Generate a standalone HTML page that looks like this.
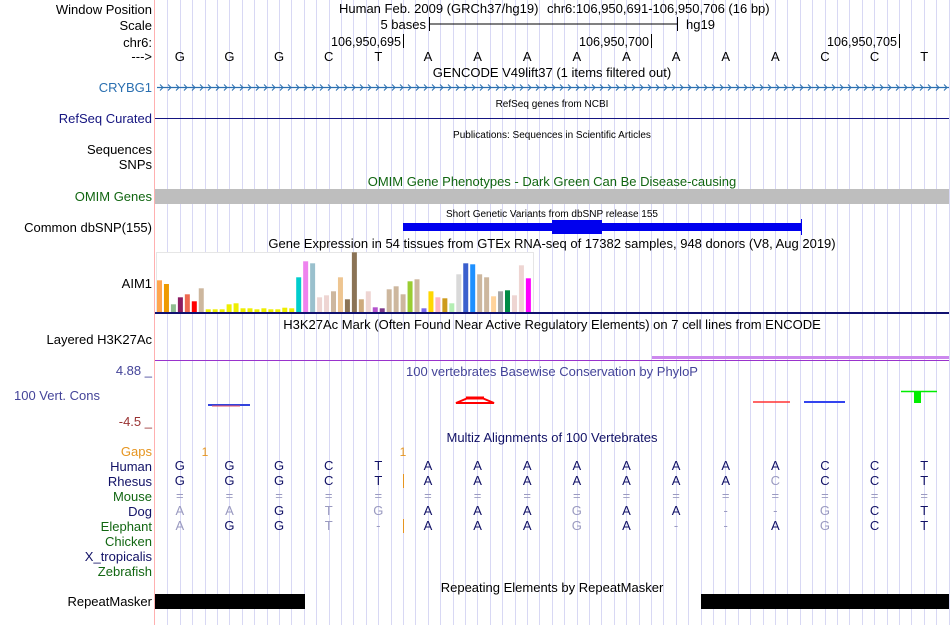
<!DOCTYPE html>
<html><head><meta charset="utf-8"><style>
html,body{margin:0;padding:0;background:#fff;}
svg{display:block;font-family:"Liberation Sans",sans-serif;}
</style></head><body>
<svg id="main" width="950" height="625" viewBox="0 0 950 625" xmlns="http://www.w3.org/2000/svg">
<g id="guides"></g>
<line x1="154.5" y1="0" x2="154.5" y2="625" stroke="#ffb0b0" stroke-width="1"/>
<g font-size="13" text-anchor="end">
<text x="152" y="14" fill="#000">Window Position</text>
<text x="152" y="30" fill="#000">Scale</text>
<text x="152" y="47" fill="#000">chr6:</text>
<text x="152" y="61" fill="#000">---&gt;</text>
<text x="152" y="92" fill="#2a6fb0">CRYBG1</text>
<text x="152" y="123" fill="#151580">RefSeq Curated</text>
<text x="152" y="154" fill="#000">Sequences</text>
<text x="152" y="169" fill="#000">SNPs</text>
<text x="152" y="201" fill="#116611">OMIM Genes</text>
<text x="152" y="232" fill="#000">Common dbSNP(155)</text>
<text x="152" y="288" fill="#000">AIM1</text>
<text x="152" y="344" fill="#000">Layered H3K27Ac</text>
<text x="152" y="375" fill="#444499">4.88 _</text>
<text x="100" y="400" fill="#444499">100 Vert. Cons</text>
<text x="152" y="426" fill="#993333">-4.5 _</text>
<text x="152" y="456" fill="#e69520">Gaps</text>
<text x="152" y="471" fill="#111166">Human</text>
<text x="152" y="486" fill="#111166">Rhesus</text>
<text x="152" y="501" fill="#116611">Mouse</text>
<text x="152" y="516" fill="#111166">Dog</text>
<text x="152" y="531" fill="#116611">Elephant</text>
<text x="152" y="546" fill="#116611">Chicken</text>
<text x="152" y="561" fill="#111166">X_tropicalis</text>
<text x="152" y="576" fill="#116611">Zebrafish</text>
<text x="152" y="606" fill="#000">RepeatMasker</text>
</g>
<g font-size="13" fill="#000">
<text x="339" y="13">Human Feb. 2009 (GRCh37/hg19)</text>
<text x="547" y="13">chr6:106,950,691-106,950,706 (16 bp)</text>
<text x="426" y="29" text-anchor="end">5 bases</text>
<line x1="430" y1="24" x2="677" y2="24" stroke="#000"/>
<line x1="429.5" y1="17" x2="429.5" y2="31" stroke="#000"/>
<line x1="677.5" y1="17" x2="677.5" y2="31" stroke="#000"/>
<text x="686" y="29">hg19</text>
<text x="401" y="46" text-anchor="end" font-size="12.6">106,950,695</text>
<line x1="403.5" y1="34" x2="403.5" y2="48" stroke="#000"/>
<text x="649" y="46" text-anchor="end" font-size="12.6">106,950,700</text>
<line x1="651.5" y1="34" x2="651.5" y2="48" stroke="#000"/>
<text x="897" y="46" text-anchor="end" font-size="12.6">106,950,705</text>
<line x1="899.5" y1="34" x2="899.5" y2="48" stroke="#000"/>
<g id="refbases" text-anchor="middle"></g>
</g>
<text x="552" y="77" font-size="13" text-anchor="middle">GENCODE V49lift37 (1 items filtered out)</text>
<line x1="157" y1="87.5" x2="949" y2="87.5" stroke="#2a6fb0" stroke-width="1.2"/>
<g id="chevrons" stroke="#2a6fb0" fill="none" stroke-width="1"></g>
<text x="552" y="107" font-size="10" text-anchor="middle">RefSeq genes from NCBI</text>
<line x1="155" y1="118.5" x2="949" y2="118.5" stroke="#151580"/>
<text x="552" y="138" font-size="10" text-anchor="middle">Publications: Sequences in Scientific Articles</text>
<text x="552" y="186" font-size="13" fill="#116611" text-anchor="middle">OMIM Gene Phenotypes - Dark Green Can Be Disease-causing</text>
<rect x="155" y="189" width="794" height="15" fill="#bebebe"/>
<text x="552" y="217" font-size="10" text-anchor="middle">Short Genetic Variants from dbSNP release 155</text>
<rect x="403" y="223" width="398" height="8" fill="#0000ee"/>
<rect x="552" y="220" width="50" height="14" fill="#0000ee"/>
<line x1="801.5" y1="219" x2="801.5" y2="235" stroke="#0000ee"/>
<text x="552" y="248" font-size="13" text-anchor="middle">Gene Expression in 54 tissues from GTEx RNA-seq of 17382 samples, 948 donors (V8, Aug 2019)</text>
<rect x="156.5" y="252.5" width="377" height="60" fill="#fff" stroke="#e6e6e6"/>
<g id="gtexbars"></g>
<rect x="155" y="312" width="794" height="2" fill="#101070"/>
<text x="552" y="329" font-size="13" text-anchor="middle">H3K27Ac Mark (Often Found Near Active Regulatory Elements) on 7 cell lines from ENCODE</text>
<rect x="652" y="356" width="297" height="3" fill="#cc88ee"/>
<line x1="155" y1="360.5" x2="949" y2="360.5" stroke="#9933cc"/>
<text x="552" y="376" font-size="13" fill="#444499" text-anchor="middle">100 vertebrates Basewise Conservation by PhyloP</text>
<g>
<line x1="208" y1="405" x2="250" y2="405" stroke="#3344dd" stroke-width="2"/>
<line x1="212" y1="406" x2="240" y2="406" stroke="#ee5566" stroke-width="1"/>
<path d="M456 403 L468 398 L482 398 L494 403 Z" fill="none" stroke="#ff0000" stroke-width="2"/>
<line x1="466" y1="398" x2="484" y2="398" stroke="#ff0000" stroke-width="3"/>
<line x1="753" y1="402" x2="790" y2="402" stroke="#ff3333" stroke-width="1.5"/>
<line x1="804" y1="402" x2="845" y2="402" stroke="#3344ee" stroke-width="2"/>
<line x1="901" y1="391.5" x2="937" y2="391.5" stroke="#00ee00" stroke-width="1.5"/>
<rect x="914" y="392" width="7" height="11" fill="#00ee00"/>
</g>
<text x="552" y="442" font-size="13" fill="#111166" text-anchor="middle">Multiz Alignments of 100 Vertebrates</text>
<text x="205" y="456" font-size="12" fill="#e69520" text-anchor="middle">1</text>
<text x="403" y="456" font-size="12" fill="#e69520" text-anchor="middle">1</text>
<line x1="403.5" y1="474" x2="403.5" y2="488" stroke="#e69520"/>
<line x1="403.5" y1="519" x2="403.5" y2="533" stroke="#e69520"/>
<g id="align" font-size="13" text-anchor="middle"></g>
<text x="552" y="592" font-size="13" text-anchor="middle">Repeating Elements by RepeatMasker</text>
<rect x="155" y="594" width="150" height="15" fill="#000"/>
<rect x="701" y="594" width="248" height="15" fill="#000"/>
</svg>
<script>
const gtexTissues = ["Adipose-Subcutaneous","Adipose-Visceral","Adrenal Gland","Artery-Aorta","Artery-Coronary","Artery-Tibial","Bladder","Brain-Amygdala","Brain-ACC","Brain-Caudate","Brain-Cerebellar","Brain-Cerebellum","Brain-Cortex","Brain-FrontalCortex","Brain-Hippocampus","Brain-Hypothalamus","Brain-Nucleus accumbens","Brain-Putamen","Brain-Spinal cord","Brain-Substantia nigra","Breast","Cells-EBV lymphocytes","Cells-Fibroblasts","Cervix-Ectocervix","Cervix-Endocervix","Colon-Sigmoid","Colon-Transverse","Esophagus-GEJ","Esophagus-Mucosa","Esophagus-Muscularis","Fallopian Tube","Heart-Atrial","Heart-Ventricle","Kidney-Cortex","Kidney-Medulla","Liver","Lung","Salivary Gland","Muscle","Nerve-Tibial","Ovary","Pancreas","Pituitary","Prostate","Skin-NotSun","Skin-Sun","Small Intestine","Spleen","Stomach","Testis","Thyroid","Uterus","Vagina","Whole Blood"];
const gtexValues = [31.7,28,7.7,14.7,17.7,10.7,23.7,2.7,2.7,2.7,7.7,8.7,3.7,3.7,2.7,3.7,2.7,2.7,4.3,3.7,34.7,50.7,48.7,14.7,16.7,20.7,34.7,12.7,59.7,12.7,20.7,4.7,3.7,22.7,25.7,17.7,30.7,32.7,3.7,20.7,14.7,13.7,8.7,37.7,48.7,47.7,37.7,34.7,15.7,20.7,21.7,16.7,46.7,33.7];
const gtexColors = ["#FFA54F","#EE9A00","#8FBC8F","#8B1C62","#EE6A50","#FF0000","#CDB79E","#EEEE00","#EEEE00","#EEEE00","#EEEE00","#EEEE00","#EEEE00","#EEEE00","#EEEE00","#EEEE00","#EEEE00","#EEEE00","#EEEE00","#EEEE00","#00CDCD","#EE82EE","#9AC0CD","#EED5D2","#EED5D2","#CDB79E","#EEC591","#8B7355","#8B7355","#CDAA7D","#EED5D2","#B452CD","#7A378B","#CDB79E","#CDB79E","#CDB79E","#9ACD32","#CDB79E","#7A67EE","#FFD700","#FFB6C1","#CD9B1D","#B4EEB4","#D9D9D9","#3A5FCD","#1E90FF","#CDB79E","#CDB79E","#FFD39B","#A6A6A6","#008B45","#EED5D2","#EED5D2","#FF00FF"];
const refBases = ["G","G","G","C","T","A","A","A","A","A","A","A","A","C","C","T"];
const humanRow = ["G","G","G","C","T","A","A","A","A","A","A","A","A","C","C","T"];
const rhesusRow = ["G","G","G","C","T","A","A","A","A","A","A","A","C","C","C","T"];
const mouseRow = ["=","=","=","=","=","=","=","=","=","=","=","=","=","=","=","="];
const dogRow = ["A","A","G","T","G","A","A","A","G","A","A","-","-","G","C","T"];
const elephantRow = ["A","G","G","T","-","A","A","A","G","A","-","-","A","G","C","T"];

const NS="http://www.w3.org/2000/svg";
const X0=155, X1=949, nBases=16, bw=(X1-X0)/nBases;
function xBase(i){return X0+bw*(i+0.5);}
const g=document.getElementById('guides');
for(let x=X0+12.4;x<X1;x+=12.4){
  const l=document.createElementNS(NS,'line');
  l.setAttribute('x1',Math.round(x)+0.5);l.setAttribute('x2',Math.round(x)+0.5);
  l.setAttribute('y1',0);l.setAttribute('y2',625);
  l.setAttribute('stroke','#d8d8f4');
  
  
  g.appendChild(l);
}
const ch=document.getElementById('chevrons');
for(let x=160;x<947;x+=8){
  const p=document.createElementNS(NS,'path');
  p.setAttribute('d',`M${x} 84.5 L${x+3} 87.5 L${x} 90.5`);
  
  
  ch.appendChild(p);
}
const rb=document.getElementById('refbases');
refBases.forEach((b,i)=>{
  const t=document.createElementNS(NS,'text');
  t.setAttribute('x',xBase(i));t.setAttribute('y',61);t.textContent=b;
  
  
  rb.appendChild(t);
});
const gb=document.getElementById('gtexbars');
const barBase=312, barScale=1.0, barPitch=6.96, barX0=156;
function yVal(v){return barBase - v*barScale;}
gtexValues.forEach((v,i)=>{
  const r=document.createElementNS(NS,'rect');
  r.setAttribute('x',barX0+barPitch*i+1);
  r.setAttribute('width',5);
  r.setAttribute('y',yVal(v));
  r.setAttribute('height',barBase-yVal(v));
  r.setAttribute('fill',gtexColors[i]);
  
  
  const tt=document.createElementNS(NS,'title');tt.textContent=gtexTissues[i];r.appendChild(tt);
  gb.appendChild(r);
});
const al=document.getElementById('align');
const rows=[[humanRow,470],[rhesusRow,485],[mouseRow,500],[dogRow,515],[elephantRow,530]];
rows.forEach(([row,y],ri)=>{
  row.forEach((b,i)=>{
    const t=document.createElementNS(NS,'text');
    t.setAttribute('x',xBase(i));t.setAttribute('y',y);
    const match = b===humanRow[i];
    t.setAttribute('fill', (ri===0||match)?'#111166':'#9a9ac0');
    t.textContent=b;
    
    
    al.appendChild(t);
  });
});
</script>
</body></html>
